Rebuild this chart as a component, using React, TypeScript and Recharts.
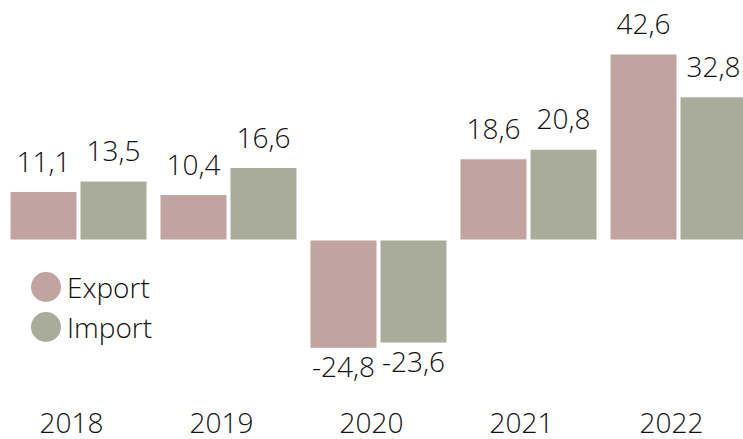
import { Bar, BarChart, XAxis, YAxis } from "recharts"

const years = ["2018", "2019", "2020", "2021", "2022"]
const exportValues = [11.1, 10.4, -24.8, 18.6, 42.6]
const importValues = [13.5, 16.6, -23.6, 20.8, 32.8]
const seriesNames = ["Export", "Import"]
const seriesColors = ["#C1A3A0", "#A9AC9A"]

const FONT = "'Open Sans', 'Segoe UI', sans-serif"

const data = years.map((year, i) => ({
  year,
  Export: exportValues[i],
  Import: importValues[i],
}))

const fmt = (v: number) => v.toFixed(1).replace(".", ",")

function ValueLabel(props: any) {
  const { x, y, width, height, value } = props
  const top = Math.min(y, y + height)
  const bottom = Math.max(y, y + height)
  const cx = x + width / 2
  const ty = value >= 0 ? top - 20 : bottom + 29
  return (
    <text x={cx} y={ty} textAnchor="middle" fill="#111" fontSize={28} fontWeight={300} fontFamily={FONT}>
      {fmt(value)}
    </text>
  )
}

function YearTick(props: any) {
  const { x, y, payload } = props
  return (
    <text x={x - 7} y={y + 54} textAnchor="middle" fill="#111" fontSize={28} fontWeight={300} fontFamily={FONT}>
      {payload.value}
    </text>
  )
}

export default function App() {
  return (
    <div style={{ position: "absolute", left: 0, top: 0, width: 743, height: 439, overflow: "hidden", background: "#fff" }}>
      <BarChart
        width={760}
        height={439}
        data={data}
        margin={{ top: 21.7, right: 6.5, bottom: 0, left: 3.5 }}
        barCategoryGap={6.5}
        barGap={3}
      >
        <XAxis dataKey="year" axisLine={false} tickLine={false} height={68} tick={<YearTick />} interval={0} />
        <YAxis hide domain={[-30, 50]} />
        <Bar dataKey="Export" fill={seriesColors[0]} stroke="#fff" strokeWidth={1} isAnimationActive={false} label={<ValueLabel />} />
        <Bar dataKey="Import" fill={seriesColors[1]} stroke="#fff" strokeWidth={1} isAnimationActive={false} label={<ValueLabel />} />
      </BarChart>
      <div style={{ position: "absolute", left: 31, top: 267, fontFamily: FONT, fontWeight: 300, fontSize: 28, color: "#111" }}>
        {seriesNames.map((name, i) => (
          <div key={name} style={{ display: "flex", alignItems: "center", height: 40 }}>
            <span
              style={{
                display: "inline-block",
                width: 30,
                height: 30,
                borderRadius: "50%",
                background: seriesColors[i],
                marginRight: 6,
              }}
            />
            <span>{name}</span>
          </div>
        ))}
      </div>
    </div>
  )
}
